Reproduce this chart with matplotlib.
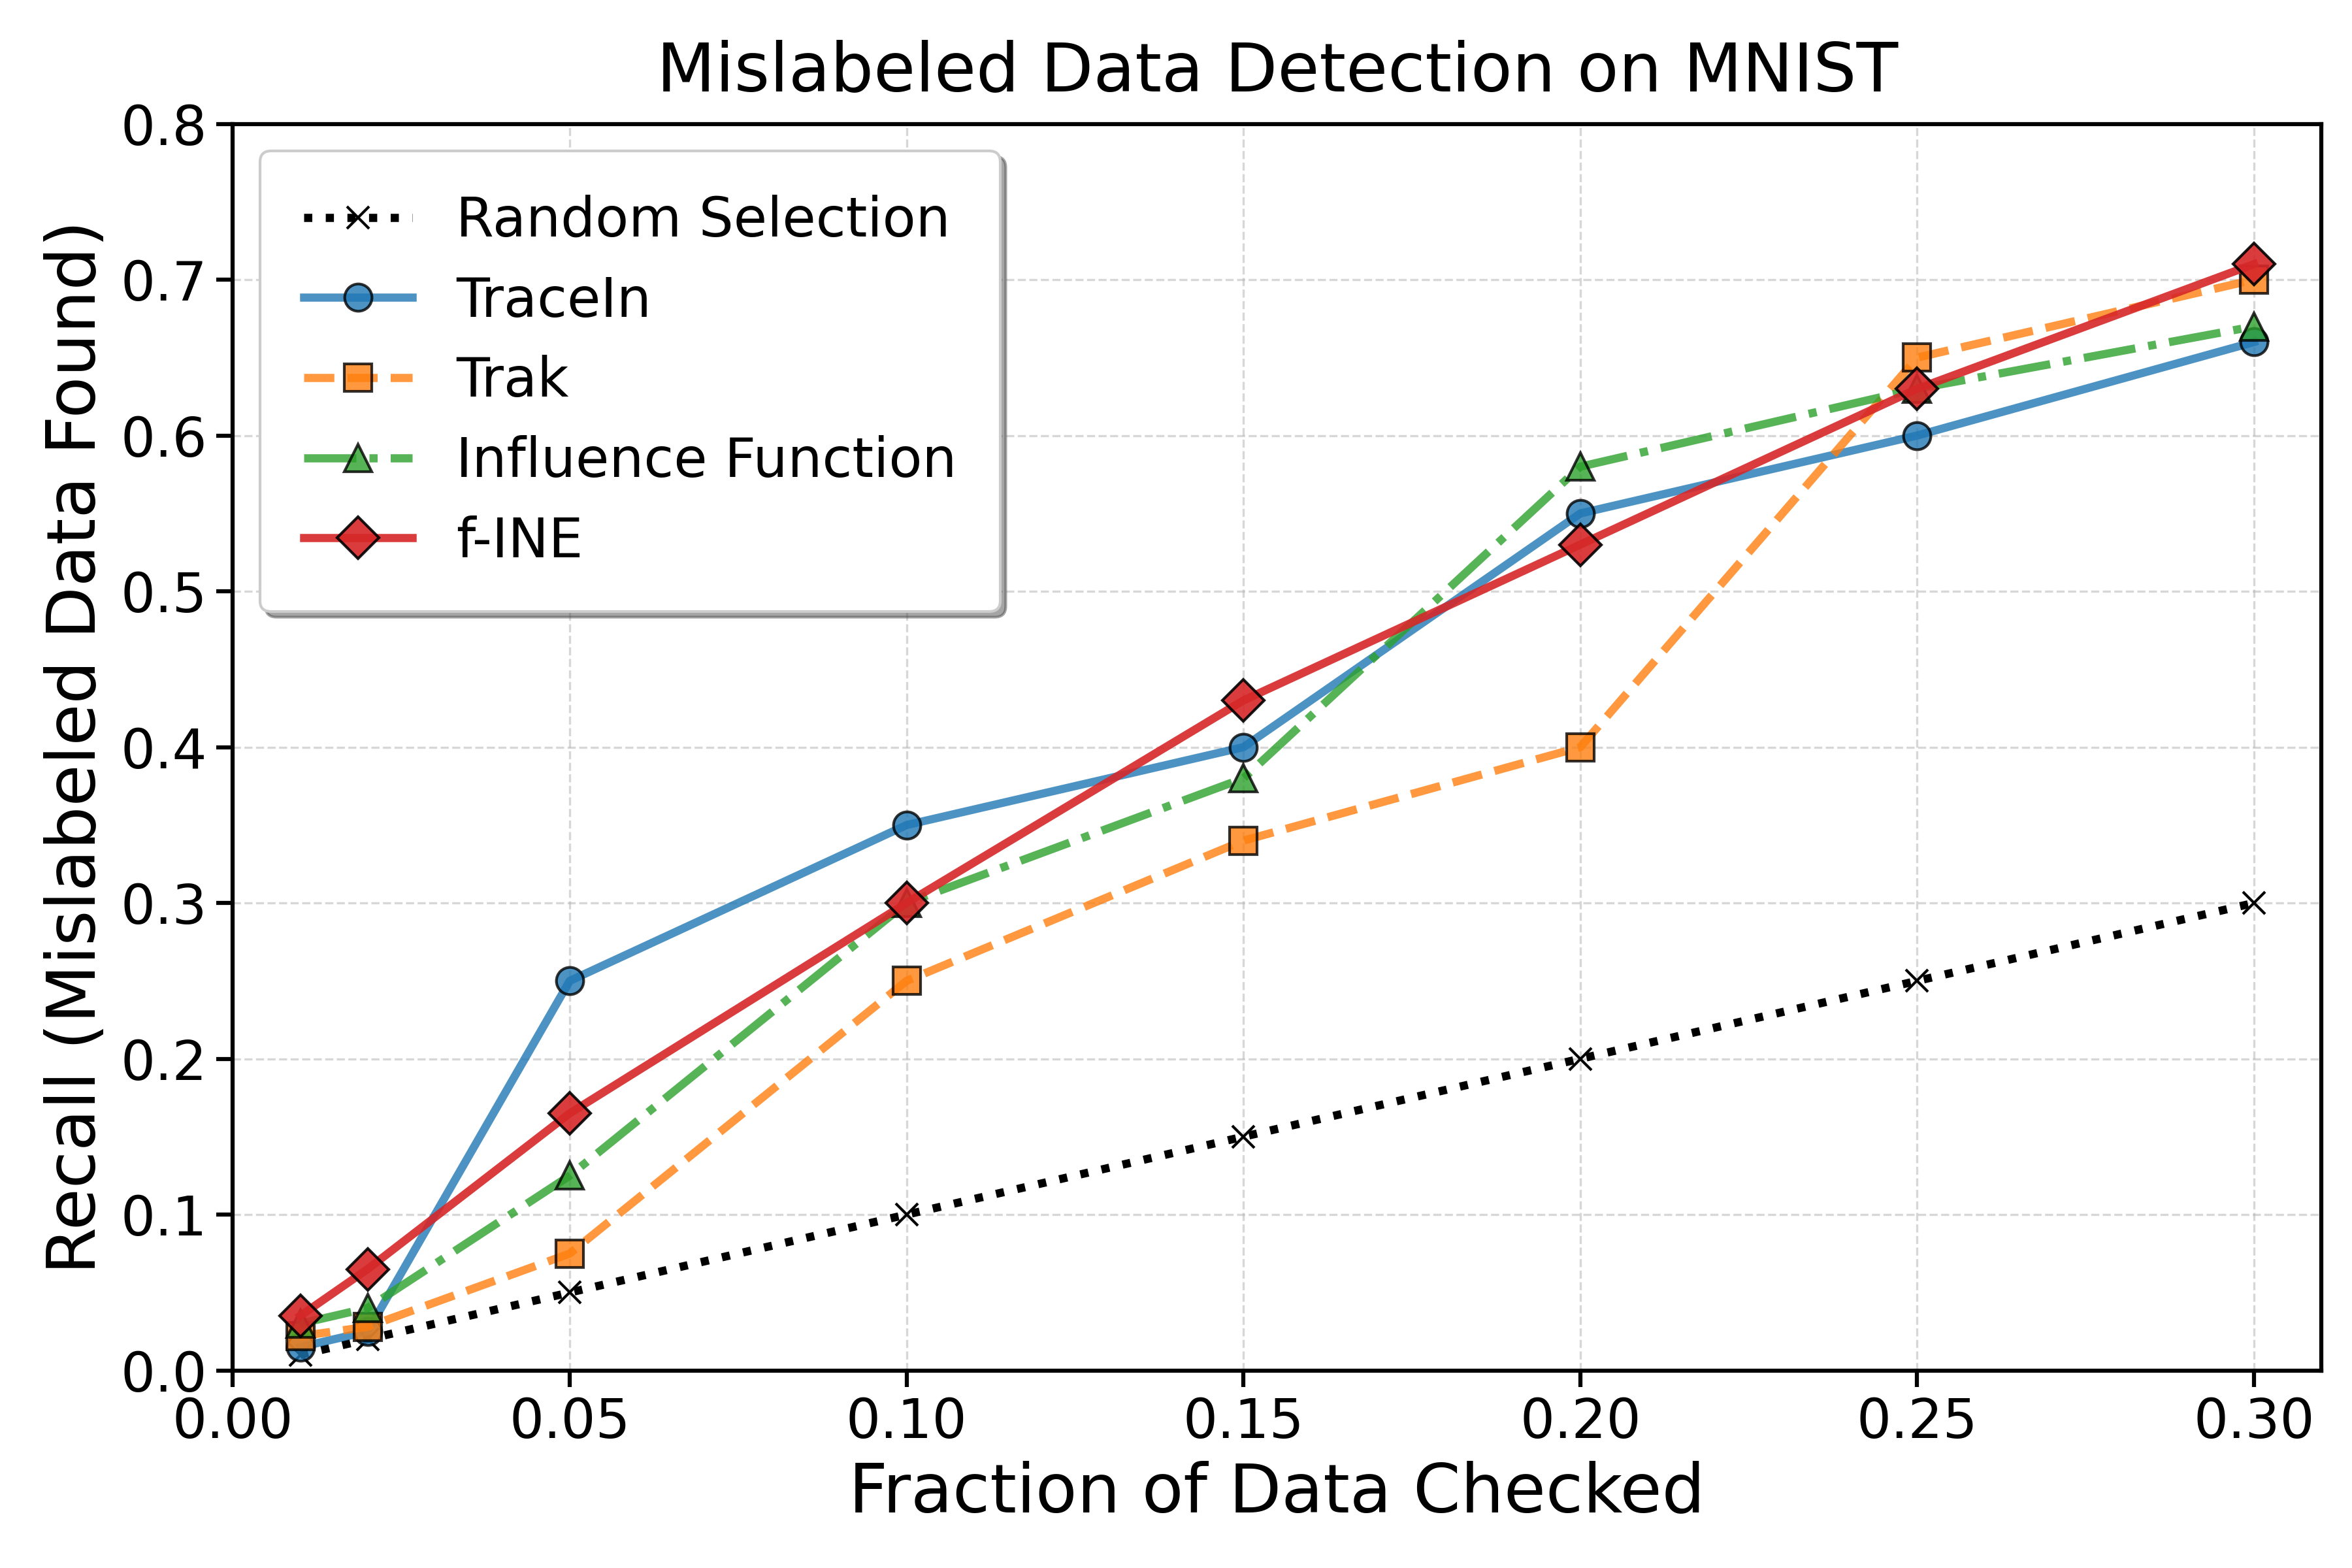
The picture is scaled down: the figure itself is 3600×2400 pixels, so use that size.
import matplotlib.pyplot as plt
import numpy as np

fractions = [0.01, 0.02, 0.05, 0.10, 0.15, 0.20, 0.25, 0.30]
random_sel = [0.01, 0.02, 0.05, 0.10, 0.15, 0.20, 0.25, 0.30]
tracein = [0.015, 0.025, 0.25, 0.35, 0.40, 0.55, 0.60, 0.66]
trak = [0.022, 0.028, 0.075, 0.25, 0.34, 0.40, 0.65, 0.70]
influence = [0.03, 0.04, 0.125, 0.30, 0.38, 0.58, 0.63, 0.67]
fine = [0.035, 0.065, 0.165, 0.30, 0.43, 0.53, 0.63, 0.71]

fig, ax = plt.subplots(figsize=(12, 8))

ax.plot(fractions, random_sel, color="black", linestyle=":", linewidth=3,
        marker="x", markersize=8, label="Random Selection")
ax.plot(fractions, tracein, color="#1f77b4", linestyle="-", linewidth=3,
        marker="o", markersize=10, markeredgecolor="black", alpha=0.8, label="TraceIn")
ax.plot(fractions, trak, color="#ff7f0e", linestyle="--", linewidth=3,
        marker="s", markersize=10, markeredgecolor="black", alpha=0.8, label="Trak")
ax.plot(fractions, influence, color="#2ca02c", linestyle="-.", linewidth=3,
        marker="^", markersize=10, markeredgecolor="black", alpha=0.8, label="Influence Function")
ax.plot(fractions, fine, color="#d62728", linestyle="-", linewidth=3,
        marker="D", markersize=11, markeredgecolor="black", alpha=0.9, label="f-INE")

ax.set_xlim(0, 0.31)
ax.set_ylim(0, 0.8)
ax.set_xticks(np.arange(0, 0.31, 0.05))
ax.set_xlabel("Fraction of Data Checked", fontsize=25)
ax.set_ylabel("Recall (Mislabeled Data Found)", fontsize=25)
ax.set_title("Mislabeled Data Detection on MNIST", fontsize=25, pad=12)
ax.tick_params(labelsize=20, width=1.5, length=6)
for s in ax.spines.values():
    s.set_linewidth(1.5)
ax.grid(True, linestyle="--", alpha=0.5)
ax.legend(fontsize=20, loc="upper left", shadow=True, fancybox=True,
          framealpha=1, borderpad=0.8, labelspacing=0.5)

fig.subplots_adjust(left=0.099, right=0.987, top=0.921, bottom=0.126)
plt.savefig("out.png", dpi=300)
